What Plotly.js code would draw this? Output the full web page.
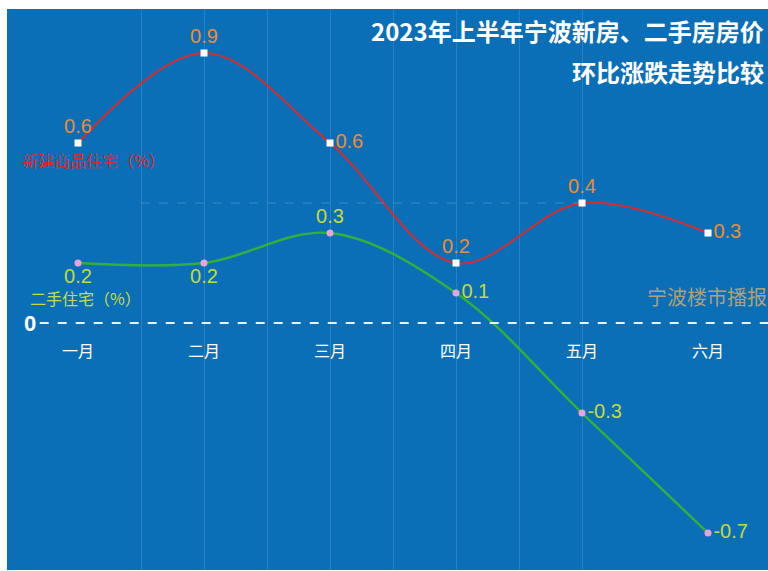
<!DOCTYPE html>
<html>
<head>
<meta charset="utf-8">
<script src="https://cdn.plot.ly/plotly-3.0.1.min.js"></script>
<style>
html,body{margin:0;padding:0;overflow:hidden;background:#fff;}
#chart{width:768px;height:571px;}
</style>
</head>
<body>
<div id="chart"></div>
<script>
// ---- data ----
const months = ["一月","二月","三月","四月","五月","六月"];
const newHomes = [0.6, 0.9, 0.6, 0.2, 0.4, 0.3];
const resale = [0.2, 0.2, 0.3, 0.1, -0.3, -0.7];
const newHomesName = "新建商品住宅（%）";
const resaleName = "二手住宅（%）";
const titleLine1 = "2023年上半年宁波新房、二手房房价";
const titleLine2 = "环比涨跌走势比较";
const watermark = "宁波楼市播报";
const newLabelPos = ["top center","top center","middle right","top center","top center","middle right"];
const resaleLabelPos = ["bottom center","bottom center","top center","middle right","middle right","middle right"];

const xs = months.map((m,i)=>i);
const fmt = v => (Math.round(v*10)/10).toString();
const CJK = '"Noto Sans CJK SC", "Noto Sans", sans-serif';
const NUM = '"Liberation Sans", Arial, sans-serif';

const traces = [
  {
    x: xs, y: newHomes, type: 'scatter', mode: 'lines+markers+text',
    line: {color: '#d92b2b', width: 2, shape: 'spline', smoothing: 1},
    marker: {color: '#ffffff', size: 7, symbol: 'square'},
    text: newHomes.map(fmt), textposition: newLabelPos,
    textfont: {color: '#f28a2e', size: 20, family: NUM},
    cliponaxis: false, hoverinfo: 'skip', showlegend: false
  },
  {
    x: xs, y: resale, type: 'scatter', mode: 'lines+markers+text',
    line: {color: '#33b03c', width: 2.4, shape: 'spline', smoothing: 1},
    marker: {color: '#e9a3dc', size: 7, symbol: 'circle'},
    text: resale.map(fmt), textposition: resaleLabelPos,
    textfont: {color: '#c4da3a', size: 20, family: NUM},
    cliponaxis: false, hoverinfo: 'skip', showlegend: false
  }
];

const annotations = [];
months.forEach((m,i)=>{
  annotations.push({x: i, y: -0.09, xref: 'x', yref: 'y', text: m, showarrow: false,
    font: {color: '#ffffff', size: 16, family: CJK}, xanchor: 'center', yanchor: 'middle'});
});
annotations.push({x: 0.9974, y: 0.961, xref: 'paper', yref: 'paper', text: '<b>'+titleLine1+'</b>',
  showarrow: false, xanchor: 'right', yanchor: 'middle', font: {color: '#ffffff', size: 24, family: CJK}});
annotations.push({x: 0.9974, y: 0.889, xref: 'paper', yref: 'paper', text: '<b>'+titleLine2+'</b>',
  showarrow: false, xanchor: 'right', yanchor: 'middle', font: {color: '#ffffff', size: 24, family: CJK}});
annotations.push({x: 0.017, y: 0.731, xref: 'paper', yref: 'paper', text: newHomesName,
  showarrow: false, xanchor: 'left', yanchor: 'middle', font: {color: '#e52626', size: 16, family: CJK}});
annotations.push({x: 0.028, y: 0.485, xref: 'paper', yref: 'paper', text: resaleName,
  showarrow: false, xanchor: 'left', yanchor: 'middle', font: {color: '#c8dc40', size: 16, family: CJK}});
annotations.push({x: 0.838, y: 0.487, xref: 'paper', yref: 'paper', text: watermark,
  showarrow: false, xanchor: 'left', yanchor: 'middle', font: {color: 'rgba(205,170,110,0.85)', size: 20, family: CJK}});
annotations.push({x: 0.030, y: 0, xref: 'paper', yref: 'y', text: '<b>0</b>',
  showarrow: false, xanchor: 'center', yanchor: 'middle', font: {color: '#ffffff', size: 22, family: NUM}});

const layout = {
  width: 768, height: 571,
  margin: {l: 7, r: 0, t: 9, b: 1, pad: 0},
  paper_bgcolor: '#ffffff',
  plot_bgcolor: '#0b6fb8',
  showlegend: false,
  xaxis: {
    range: [-0.5635, 5.476], showticklabels: false, ticks: '',
    showgrid: true, tickvals: [0.5,1,1.5,2,2.5,3,3.5,4],
    gridcolor: 'rgba(255,255,255,0.13)', gridwidth: 1,
    zeroline: false, showline: false, fixedrange: true
  },
  yaxis: {
    range: [-0.8233, 1.0467], showticklabels: false, ticks: '',
    showgrid: false, zeroline: false, showline: false, fixedrange: true
  },
  shapes: [
    {type: 'line', xref: 'x', yref: 'y', x0: 0.5, x1: 4, y0: 0.4, y1: 0.4,
     line: {color: 'rgba(255,255,255,0.2)', width: 1, dash: 'dash'}},
    {type: 'line', xref: 'paper', yref: 'y', x0: 0.043, x1: 1, y0: 0, y1: 0,
     line: {color: 'rgba(255,255,255,0.9)', width: 2, dash: 'dash'}}
  ],
  annotations: annotations
};

Plotly.newPlot('chart', traces, layout, {displayModeBar: false, staticPlot: true});
</script>
</body>
</html>
